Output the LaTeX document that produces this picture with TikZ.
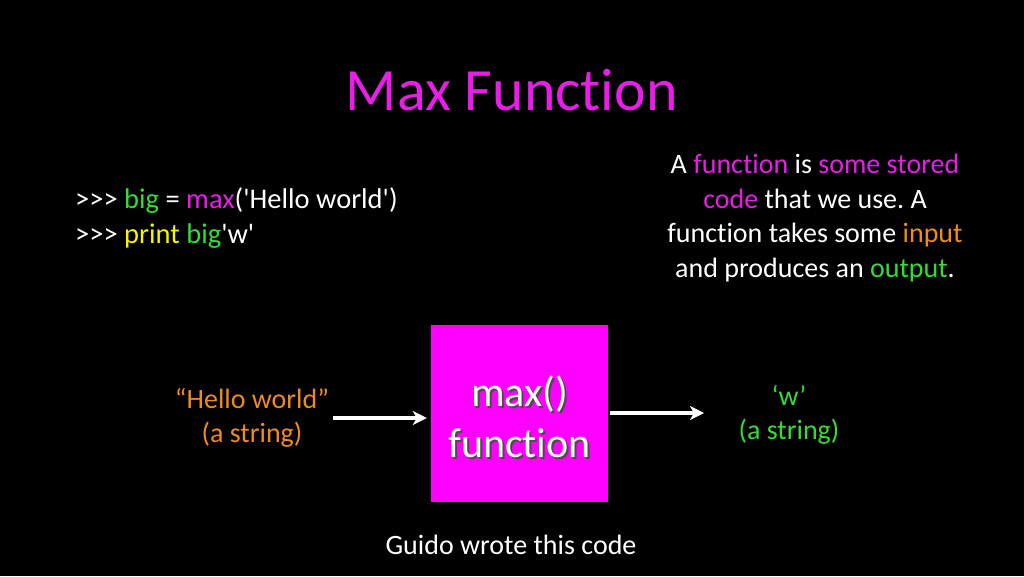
\documentclass[tikz,border=0pt]{standalone}
\usepackage{fontspec}
\setmainfont{Carlito}[Ligatures={TeXOff,NoCommon}]
\usetikzlibrary{arrows.meta}
\frenchspacing
\definecolor{mag}{HTML}{E81EE8}
\definecolor{boxmag}{HTML}{FF00FF}
\definecolor{grn}{HTML}{33DD33}
\definecolor{yel}{HTML}{F5F500}
\definecolor{org}{HTML}{EE8A1E}
\tikzset{
  txt/.style={text=white,inner sep=0pt,font=\fontsize{28}{34.5}\selectfont},
  conn/.style={draw=white,line width=4pt,-{Stealth[length=14pt,width=14pt,inset=4pt]}},
  boxtxt/.style={inner sep=0pt,font=\fontsize{42}{51}\selectfont,align=center}
}
\begin{document}
\begin{tikzpicture}[x=1pt,y=-1pt]
\fill[black] (0,0) rectangle (1024,576);
\useasboundingbox (0,0) rectangle (1024,576);
\node[inner sep=0pt,text=mag,font=\fontsize{60}{70}\selectfont] (title) at (512,90) {Max Function};
\node[txt,anchor=west,align=left,font=\fontsize{28.5}{34.5}\selectfont] (code) at (75,218) {>>> \textcolor{grn}{big} = \textcolor{mag}{max}('Hello world')\\
>>> \textcolor{yel}{print} \textcolor{grn}{big}'w'};
\node[txt,align=center] (desc) at (815,218) {A \textcolor{mag}{function} is \textcolor{mag}{some stored}\\
\textcolor{mag}{code} that we use. A\\
function takes some \textcolor{org}{input}\\
and produces an \textcolor{grn}{output}.};
\node[fill=boxmag,minimum width=177pt,minimum height=177pt,inner sep=0pt] (box) at (519.5,413.5) {};
\node[boxtxt,text=black!70] (boxsh) at (521.5,418.5) {max()\\function};
\node[boxtxt,text=white] (boxt) at (519.5,416.5) {max()\\function};
\node[txt,align=center,text=org] (hw) at (252,418) {“Hello world”\\(a string)};
\node[txt,align=center,text=grn] (w) at (789,415) {‘w’\\(a string)};
\node[txt] (guido) at (511,545) {Guido wrote this code};
\coordinate (a1) at (333,418);
\coordinate (a2) at (704,413);
\draw[conn,shorten >=4pt] (a1) -- (box.west |- a1);
\draw[conn,shorten <=2pt] (box.east |- a2) -- (a2);
\end{tikzpicture}
\end{document}
